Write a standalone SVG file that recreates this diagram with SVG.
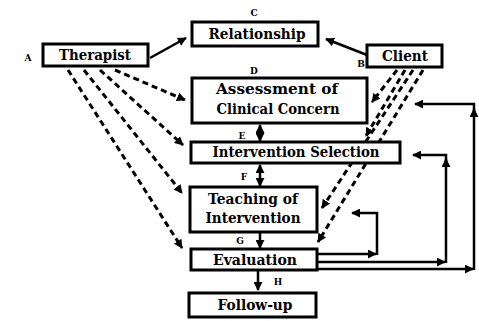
<svg xmlns="http://www.w3.org/2000/svg" width="479" height="321" viewBox="0 0 479 321">
<style>
.box{fill:#fff;stroke:#000;stroke-width:3}
.t{font-family:"DejaVu Serif","Liberation Serif",serif;font-weight:bold;font-size:14px;fill:#000;text-anchor:middle}
.lbl{font-family:"DejaVu Serif","Liberation Serif",serif;font-weight:bold;font-size:9px;fill:#000;text-anchor:middle}
.s{fill:none;stroke:#000;stroke-width:2.5}
.d{fill:none;stroke:#000;stroke-width:3;stroke-dasharray:6 4}
</style>
<defs>
<marker id="ah" viewBox="0 0 10 10" refX="9" refY="5" markerWidth="9" markerHeight="9" markerUnits="userSpaceOnUse" orient="auto-start-reverse">
<path d="M0,0 L10,5 L0,10 z" fill="#000"/>
</marker>
</defs>
<rect width="479" height="321" fill="#fff"/>
<g id="connectors">
<line class="s" x1="150" y1="58" x2="186" y2="38" marker-end="url(#ah)"/>
<line class="s" x1="367" y1="55" x2="326" y2="39" marker-end="url(#ah)"/>
<line class="d" x1="115" y1="70" x2="185" y2="100" marker-end="url(#ah)"/>
<line class="d" x1="100" y1="70" x2="183" y2="145" marker-end="url(#ah)"/>
<line class="d" x1="84" y1="70" x2="182" y2="193" marker-end="url(#ah)"/>
<line class="d" x1="68" y1="70" x2="182" y2="248" marker-end="url(#ah)"/>
<line class="d" x1="397" y1="70" x2="372" y2="102" marker-end="url(#ah)"/>
<line class="d" x1="405" y1="70" x2="366" y2="136" marker-end="url(#ah)"/>
<line class="d" x1="413" y1="70" x2="322" y2="208" marker-end="url(#ah)"/>
<line class="d" x1="423" y1="70" x2="318" y2="242" marker-end="url(#ah)"/>
<line class="s" x1="260" y1="133" x2="260" y2="125" marker-end="url(#ah)"/>
<line class="s" x1="260" y1="133" x2="260" y2="141" marker-end="url(#ah)"/>
<line class="s" x1="260" y1="175" x2="260" y2="165" marker-end="url(#ah)"/>
<line class="s" x1="260" y1="175" x2="260" y2="186" marker-end="url(#ah)"/>
<line class="s" x1="260" y1="233" x2="260" y2="248" marker-end="url(#ah)"/>
<line class="s" x1="258" y1="271" x2="258" y2="290" marker-end="url(#ah)"/>
<line class="s" x1="317" y1="254" x2="376" y2="254" marker-end="url(#ah)"/>
<polyline class="s" points="377,255 377,213 352,213" marker-end="url(#ah)"/>
<line class="s" x1="317" y1="262" x2="445" y2="262" marker-end="url(#ah)"/>
<line class="s" x1="446" y1="263" x2="446" y2="159" marker-end="url(#ah)"/>
<polyline class="s" points="446,162 446,155 413,155" marker-end="url(#ah)"/>
<line class="s" x1="317" y1="269" x2="473" y2="269" marker-end="url(#ah)"/>
<line class="s" x1="474" y1="270" x2="474" y2="109" marker-end="url(#ah)"/>
<polyline class="s" points="474,112 474,104 415,104" marker-end="url(#ah)"/>
</g>
<g id="therapist">
<rect class="box" x="43" y="44" width="105" height="22"/>
<text class="t" x="95" y="60" textLength="72" lengthAdjust="spacingAndGlyphs">Therapist</text>
<text class="lbl" x="28" y="61">A</text>
</g>
<g id="client">
<rect class="box" x="367" y="45" width="75" height="22"/>
<text class="t" x="405" y="61" textLength="46" lengthAdjust="spacingAndGlyphs">Client</text>
<text class="lbl" x="361" y="67">B</text>
</g>
<g id="relationship">
<rect class="box" x="192" y="22" width="126" height="24"/>
<text class="t" x="257" y="39" textLength="97" lengthAdjust="spacingAndGlyphs">Relationship</text>
<text class="lbl" x="254" y="16">C</text>
</g>
<g id="assessment">
<rect class="box" x="192" y="78" width="175" height="45"/>
<text class="t" x="277" y="94" textLength="122" lengthAdjust="spacingAndGlyphs">Assessment of</text>
<text class="t" x="278" y="114" textLength="123" lengthAdjust="spacingAndGlyphs">Clinical Concern</text>
<text class="lbl" x="254" y="74">D</text>
</g>
<g id="selection">
<rect class="box" x="191" y="142" width="209" height="21"/>
<text class="t" x="296" y="157" textLength="167" lengthAdjust="spacingAndGlyphs">Intervention Selection</text>
<text class="lbl" x="242" y="139">E</text>
</g>
<g id="teaching">
<rect class="box" x="190" y="187" width="127" height="45"/>
<text class="t" x="253" y="204" textLength="90" lengthAdjust="spacingAndGlyphs">Teaching of</text>
<text class="t" x="253" y="223" textLength="95" lengthAdjust="spacingAndGlyphs">Intervention</text>
<text class="lbl" x="244" y="180">F</text>
</g>
<g id="evaluation">
<rect class="box" x="191" y="249" width="126" height="21"/>
<text class="t" x="255" y="265" textLength="84" lengthAdjust="spacingAndGlyphs">Evaluation</text>
<text class="lbl" x="240" y="244">G</text>
</g>
<g id="followup">
<rect class="box" x="189" y="293" width="127" height="24"/>
<text class="t" x="255" y="310" textLength="75" lengthAdjust="spacingAndGlyphs">Follow-up</text>
<text class="lbl" x="278" y="285">H</text>
</g>
</svg>
